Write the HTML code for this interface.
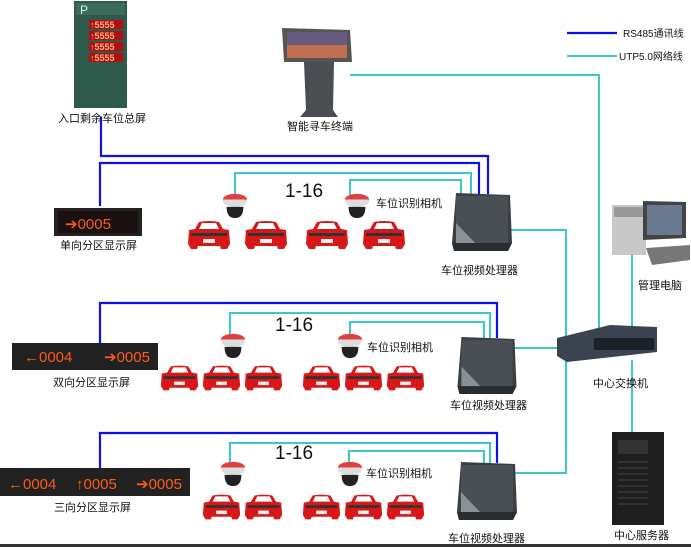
<!DOCTYPE html>
<html><head><meta charset="utf-8"><style>
html,body{margin:0;padding:0;background:#fff;width:691px;height:547px;overflow:hidden}
svg{display:block}
text{font-family:"Liberation Sans","Noto Sans CJK SC",sans-serif;font-size:11px;fill:#111}
.b{stroke:#1010e8;stroke-width:2.2;fill:none}
.c{stroke:#3cc8c8;stroke-width:2;fill:none}
.led{font-family:"Liberation Sans",sans-serif;fill:#ff5a1a;font-size:15px}
.big{font-size:19px}
.sm{font-size:10px}
.pl{font-size:9px;fill:#ffb080;font-weight:bold}
</style></head><body>
<svg width="691" height="547" viewBox="0 0 691 547">
<defs>
<symbol id="car" viewBox="0 0 44 30">
<path d="M8 9 L12 2 Q22 0 32 2 L36 9 L42 10 L43 24 L40 29 L34 29 L33 26 L11 26 L10 29 L4 29 L1 24 L2 10 Z" fill="#d81818"/>
<path d="M12 9 L15 3 L29 3 L32 9 Z" fill="#fff"/>
<rect x="4" y="13" width="36" height="3" fill="#333"/>
<rect x="16" y="19" width="12" height="4" fill="#eee"/>
</symbol>
<symbol id="cam" viewBox="0 0 30 30">
<ellipse cx="15" cy="8" rx="13" ry="6" fill="#e04040"/>
<path d="M2 8 Q2 16 15 16 Q28 16 28 8 Z" fill="#ddd"/>
<path d="M6 16 Q6 28 15 28 Q24 28 24 16 Z" fill="#222"/>
</symbol>
<symbol id="proc" viewBox="0 0 60 58">
<path d="M4 0 L58 2 L60 50 L56 58 L2 58 L0 50 Z" fill="#3b3f44"/>
<rect x="4" y="3" width="52" height="48" fill="#4a4f55"/>
<path d="M4 30 L24 51 L4 51 Z" fill="#8a9096"/>
<path d="M0 50 L60 50 L56 58 L2 58Z" fill="#2a2d30"/>
</symbol>
</defs>

<line x1="567" y1="33" x2="617" y2="33" class="b"/>
<text x="623" y="37" class="sm">RS485通讯线</text>
<line x1="567" y1="56" x2="617" y2="56" class="c"/>
<text x="619" y="60" class="sm">UTP5.0网络线</text>

<polyline class="b" points="101,117 101,156 488,156 488,194"/>
<polyline class="b" points="100,206 100,163 479,163 479,194"/>
<polyline class="c" points="235,196 235,173 471,173 471,194"/>
<polyline class="c" points="350,196 350,180 461,180 461,194"/>
<polyline class="c" points="350,75 599,75 599,330"/>
<polyline class="c" points="510,230 566,230 566,345"/>
<polyline class="c" points="632,255 632,330"/>
<polyline class="c" points="632,360 632,432"/>
<polyline class="b" points="100,344 100,303 497,303 497,338"/>
<polyline class="c" points="230,335 230,313 490,313 490,338"/>
<polyline class="c" points="350,335 350,322 484,322 484,338"/>
<polyline class="c" points="515,348 560,348"/>
<polyline class="b" points="100,470 100,433 497,433 497,463"/>
<polyline class="c" points="230,462 230,443 490,443 490,463"/>
<polyline class="c" points="349,462 349,451 484,451 484,463"/>
<polyline class="c" points="515,473 566,473 566,355"/>

<rect x="74" y="1" width="53" height="107" fill="#2e5a4c"/>
<rect x="76" y="3" width="49" height="12" fill="#3d6b5c"/>
<text x="80" y="14" style="fill:#cfe;font-size:12px">P</text>
<rect x="89" y="20" width="34" height="9" fill="#b01010"/>
<rect x="89" y="31" width="34" height="9" fill="#b01010"/>
<rect x="89" y="42" width="34" height="9" fill="#b01010"/>
<rect x="89" y="53" width="34" height="9" fill="#b01010"/>
<text x="90" y="28" class="pl">↑5555</text>
<text x="90" y="39" class="pl">↑5555</text>
<text x="90" y="50" class="pl">↑5555</text>
<text x="90" y="61" class="pl">↑5555</text>
<text x="58" y="122">入口剩余车位总屏</text>

<path d="M282 28 L350 30 L352 62 L284 62 Z" fill="#555"/>
<rect x="287" y="32" width="60" height="26" fill="#6a5a80"/>
<rect x="287" y="45" width="60" height="13" fill="#c07050"/>
<path d="M304 62 L334 62 L333 110 L338 117 L300 117 L306 110 Z" fill="#4a4e52"/>
<text x="287" y="130">智能寻车终端</text>

<rect x="54" y="208" width="88" height="28" fill="#222"/>
<rect x="58" y="211" width="80" height="22" fill="#1a1010"/>
<text x="65" y="229" class="led">➔0005</text>
<text x="60" y="249">单向分区显示屏</text>

<rect x="12" y="343" width="146" height="27" fill="#222"/>
<text x="24" y="362" class="led">←0004</text>
<text x="104" y="362" class="led">➔0005</text>
<text x="53" y="386">双向分区显示屏</text>

<rect x="0" y="468" width="190" height="28" fill="#222"/>
<text x="8" y="489" class="led">←0004</text>
<text x="76" y="489" class="led">↑0005</text>
<text x="136" y="489" class="led">➔0005</text>
<text x="54" y="511">三向分区显示屏</text>

<use href="#cam" x="221" y="192" width="28" height="28"/>
<use href="#cam" x="343" y="192" width="28" height="28"/>
<use href="#cam" x="219" y="332" width="28" height="28"/>
<use href="#cam" x="336" y="332" width="28" height="28"/>
<use href="#cam" x="219" y="460" width="28" height="28"/>
<use href="#cam" x="336" y="460" width="28" height="28"/>
<text x="285" y="197" class="big">1-16</text>
<text x="275" y="331" class="big">1-16</text>
<text x="275" y="459" class="big">1-16</text>
<text x="376" y="207">车位识别相机</text>
<text x="367" y="351">车位识别相机</text>
<text x="366" y="477">车位识别相机</text>

<use href="#car" x="187" y="220" width="44" height="30"/>
<use href="#car" x="244" y="220" width="44" height="30"/>
<use href="#car" x="305" y="220" width="44" height="30"/>
<use href="#car" x="362" y="220" width="44" height="30"/>
<use href="#car" x="160" y="364" width="39" height="28"/>
<use href="#car" x="202" y="364" width="39" height="28"/>
<use href="#car" x="244" y="364" width="39" height="28"/>
<use href="#car" x="302" y="364" width="39" height="28"/>
<use href="#car" x="344" y="364" width="39" height="28"/>
<use href="#car" x="386" y="364" width="39" height="28"/>
<use href="#car" x="202" y="493" width="39" height="28"/>
<use href="#car" x="244" y="493" width="39" height="28"/>
<use href="#car" x="302" y="493" width="39" height="28"/>
<use href="#car" x="344" y="493" width="39" height="28"/>
<use href="#car" x="386" y="493" width="39" height="28"/>

<use href="#proc" x="452" y="193" width="60" height="58"/>
<text x="441" y="274">车位视频处理器</text>
<use href="#proc" x="457" y="337" width="60" height="57"/>
<text x="450" y="409">车位视频处理器</text>
<use href="#proc" x="457" y="462" width="60" height="58"/>
<text x="448" y="542">车位视频处理器</text>

<path d="M557 338 L610 325 L657 327 L657 352 L567 362 L557 356 Z" fill="#3a4450"/>
<rect x="594" y="338" width="60" height="12" fill="#1c2228"/>
<text x="593" y="387">中心交换机</text>

<rect x="612" y="205" width="34" height="50" fill="#c8c8c8"/>
<rect x="614" y="207" width="30" height="10" fill="#999"/>
<path d="M643 201 L686 202 L686 238 L643 240 Z" fill="#444"/>
<rect x="647" y="205" width="35" height="30" fill="#6a7a90"/>
<path d="M646 248 L690 245 L690 260 L652 265 Z" fill="#777"/>
<text x="638" y="289">管理电脑</text>

<rect x="612" y="432" width="52" height="93" fill="#1e1e20"/>
<rect x="618" y="440" width="30" height="14" fill="#333"/>
<g stroke="#444" stroke-width="1">
<line x1="618" y1="462" x2="648" y2="462"/><line x1="618" y1="468" x2="648" y2="468"/>
<line x1="618" y1="474" x2="648" y2="474"/><line x1="618" y1="480" x2="648" y2="480"/>
<line x1="618" y1="486" x2="648" y2="486"/><line x1="618" y1="492" x2="648" y2="492"/>
<line x1="618" y1="498" x2="648" y2="498"/><line x1="618" y1="504" x2="648" y2="504"/>
</g>
<text x="614" y="539">中心服务器</text>

<rect x="0" y="544" width="691" height="3" fill="#333"/>
</svg>
</body></html>
